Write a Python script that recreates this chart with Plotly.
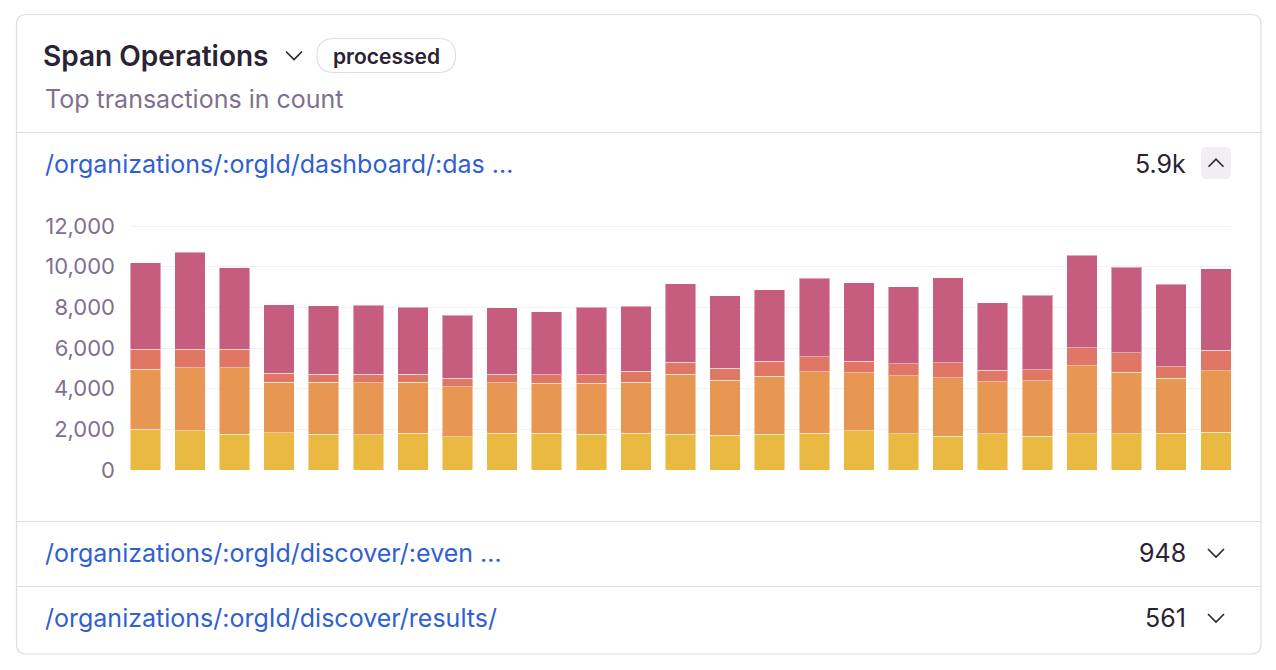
import plotly.graph_objects as go

# bar series (stacked bottom to top)
periods = list(range(25))
series_names = ['op1', 'op2', 'op3', 'op4']
yellow_vals = [2000, 1930, 1770, 1830, 1770, 1735, 1815, 1635, 1815, 1815, 1750, 1800, 1770,
               1720, 1770, 1815, 1940, 1790, 1655, 1790, 1655, 1790, 1790, 1815, 1850]
orange_vals = [2950, 3095, 3255, 2490, 2550, 2555, 2505, 2455, 2475, 2460, 2525, 2520, 2945,
               2700, 2845, 3015, 2835, 2845, 2885, 2550, 2735, 3340, 3010, 2690, 3030]
salmon_vals = [990, 915, 915, 440, 395, 425, 395, 430, 425, 405, 405, 540, 590,
               590, 740, 750, 575, 590, 735, 570, 540, 895, 965, 575, 1000]
pink_vals = [4260, 4760, 4000, 3370, 3370, 3385, 3290, 3090, 3255, 3110, 3325, 3195, 3860,
             3550, 3515, 3850, 3870, 3800, 4175, 3310, 3665, 4535, 4205, 4055, 4010]
colors = ['#E9B941', '#E79752', '#E07764', '#C65C7E']

y_ticks = [0, 2000, 4000, 6000, 8000, 10000, 12000]

transactions = ['/organizations/:orgId/dashboard/:das …',
                '/organizations/:orgId/discover/:even …',
                '/organizations/:orgId/discover/results/']
counts = ['5.9k', '948', '561']

# the page puts the figure 8px in from the window corner
OFF = 8
W, H = 1260, 654
L, R, T, B = 130 - OFF, W - (1231 - OFF), 224 - OFF, H - (470 - OFF)
PW, PH = W - L - R, H - T - B


def px(x):
    return (x - OFF - L) / PW


def py(y):
    return (H - B - (y - OFF)) / PH


def rounded_rect(x0, y0, x1, y1, r):
    pts = [f'M {px(x0 + r)} {py(y0)}', f'L {px(x1 - r)} {py(y0)}',
           f'Q {px(x1)} {py(y0)} {px(x1)} {py(y0 + r)}', f'L {px(x1)} {py(y1 - r)}',
           f'Q {px(x1)} {py(y1)} {px(x1 - r)} {py(y1)}', f'L {px(x0 + r)} {py(y1)}',
           f'Q {px(x0)} {py(y1)} {px(x0)} {py(y1 - r)}', f'L {px(x0)} {py(y0 + r)}',
           f'Q {px(x0)} {py(y0)} {px(x0 + r)} {py(y0)}', 'Z']
    return ' '.join(pts)


def chevron(cx, cy, w, h, up=False):
    d = -1 if up else 1
    return (f'M {px(cx - w / 2)} {py(cy - d * h / 2)} L {px(cx)} {py(cy + d * h / 2)} '
            f'L {px(cx + w / 2)} {py(cy - d * h / 2)}')


fig = go.Figure()
for name, vals, col in zip(series_names, [yellow_vals, orange_vals, salmon_vals, pink_vals], colors):
    fig.add_trace(go.Bar(x=periods, y=vals, name=name, marker_color=col,
                         marker_line=dict(color='rgba(255,255,255,0.45)', width=1)))

bw = 30.5 / 44.6
fig.update_layout(
    width=W, height=H, barmode='stack', bargap=1 - bw, showlegend=False,
    margin=dict(l=L, r=R, t=T, b=B, autoexpand=False),
    paper_bgcolor='white', plot_bgcolor='white',
    font=dict(family='Inter, Noto Sans, sans-serif', color='#2B2233'),
    xaxis=dict(range=[-bw / 2, 24 + bw / 2], showticklabels=False, showgrid=False,
               zeroline=False, fixedrange=True),
    yaxis=dict(range=[0, 12100], tickvals=y_ticks, tickformat=',d', showgrid=True,
               gridcolor='#F2F0F5', gridwidth=1, zeroline=False, ticklabelstandoff=14,
               tickfont=dict(size=22, color='#80708F'), fixedrange=True),
)

line_col = '#E0DCE5'
shapes = [
    dict(type='path', path=rounded_rect(16.5, 14.5, 1261, 654, 10), xref='paper', yref='paper',
         line=dict(color=line_col, width=1.2), layer='below'),
    dict(type='line', xref='paper', yref='paper', x0=px(16.5), x1=px(1261), y0=py(132.5), y1=py(132.5),
         line=dict(color=line_col, width=1)),
    dict(type='line', xref='paper', yref='paper', x0=px(16.5), x1=px(1261), y0=py(521.5), y1=py(521.5),
         line=dict(color=line_col, width=1)),
    dict(type='line', xref='paper', yref='paper', x0=px(16.5), x1=px(1261), y0=py(586.5), y1=py(586.5),
         line=dict(color=line_col, width=1)),
    # "processed" pill
    dict(type='path', path=rounded_rect(317, 38.5, 455.5, 72.5, 17), xref='paper', yref='paper',
         line=dict(color=line_col, width=1.2)),
    # collapse button
    dict(type='path', path=rounded_rect(1201, 147, 1231, 179, 6), xref='paper', yref='paper',
         fillcolor='#F0EEF3', line=dict(width=0)),
    dict(type='path', path=chevron(294, 55.5, 16, 8), xref='paper', yref='paper',
         line=dict(color='#2B2233', width=1.6)),
    dict(type='path', path=chevron(1216, 163, 15, 7.5, up=True), xref='paper', yref='paper',
         line=dict(color='#2B2233', width=1.6)),
    dict(type='path', path=chevron(1216, 553, 16, 8), xref='paper', yref='paper',
         line=dict(color='#2B2233', width=1.6)),
    dict(type='path', path=chevron(1216, 618, 16, 8), xref='paper', yref='paper',
         line=dict(color='#2B2233', width=1.6)),
]
fig.update_layout(shapes=shapes)


def note(text, x, y, size, color, xanchor='left', weight=None):
    f = dict(size=size, color=color)
    if weight:
        f['weight'] = weight
    fig.add_annotation(text=text, x=px(x), y=py(y), xref='paper', yref='paper', showarrow=False,
                       xanchor=xanchor, yanchor='middle', font=f)


note('Span Operations', 41, 56, 28, '#2B2233', weight=600)
note('processed', 386, 56, 21, '#2B2233', xanchor='center', weight=600)
note('Top transactions in count', 43, 99, 25, '#80708F')
row_y = [164, 553, 618]
for name, cnt, yy in zip(transactions, counts, row_y):
    note(name, 43, yy, 25, '#2F5FD3')
    note(cnt, 1188, yy, 25, '#2B2233', xanchor='right')

fig.write_html('out.html')
